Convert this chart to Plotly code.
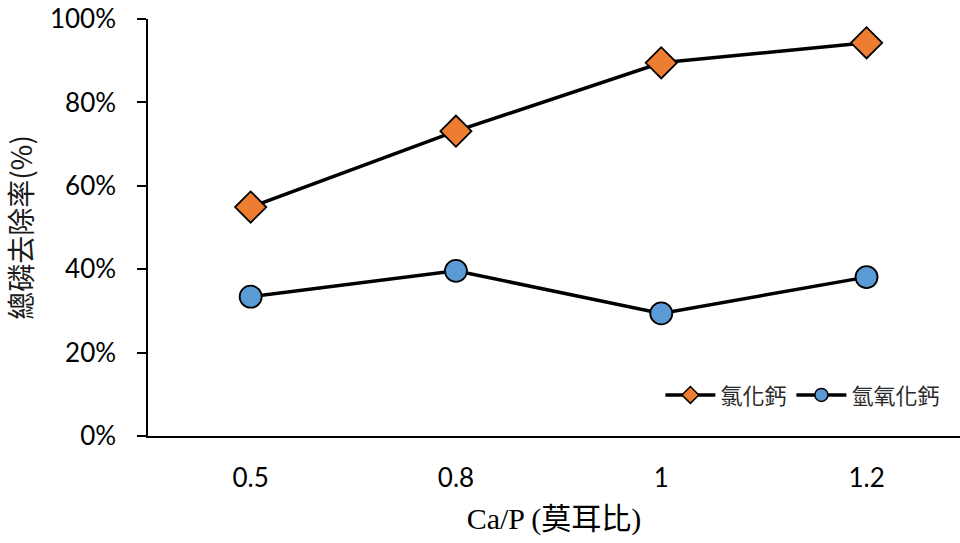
import plotly.graph_objects as go

categories = ["0.5", "0.8", "1", "1.2"]
cacl2 = [0.549, 0.731, 0.895, 0.943]
caoh2 = [0.334, 0.396, 0.294, 0.381]
series_names = ["氯化鈣", "氫氧化鈣"]
y_ticks = [0, 0.2, 0.4, 0.6, 0.8, 1.0]
y_tick_labels = ["0%", "20%", "40%", "60%", "80%", "100%"]

xpos = list(range(len(categories)))
colors = ["#ED7D31", "#5B9BD5"]
symbols = ["diamond", "circle"]
sizes = [24, 22]

fig = go.Figure()
for vals, name, col, sym, sz in zip([cacl2, caoh2], series_names, colors, symbols, sizes):
    fig.add_trace(go.Scatter(
        x=xpos, y=vals, name=name, mode="lines+markers", showlegend=False,
        line=dict(color="black", width=3.5),
        marker=dict(symbol=sym, size=sz, color=col, line=dict(color="black", width=1.8)),
    ))
# legend entries with smaller markers, as in the reference legend
for name, col, sym in zip(series_names, colors, symbols):
    fig.add_trace(go.Scatter(
        x=[None], y=[None], name=name, mode="lines+markers",
        line=dict(color="black", width=3.5),
        marker=dict(symbol=sym, size=13, color=col, line=dict(color="black", width=1.5)),
    ))

fig.update_layout(
    width=960, height=543,
    margin=dict(l=148, r=0, t=19, b=107),
    paper_bgcolor="white", plot_bgcolor="white",
    font=dict(family="Lato, 'Open Sans', sans-serif", color="black"),
    legend=dict(
        orientation="h", x=0.982, xanchor="right", y=0.098, yanchor="middle",
        font=dict(family="'Noto Sans CJK TC', sans-serif", size=22, color="#2a2a2a"),
        bgcolor="rgba(0,0,0,0)", itemwidth=50, traceorder="normal",
    ),
    xaxis=dict(
        range=[-0.5, -0.5 + 812 / 205.3],
        tickmode="array", tickvals=xpos, ticktext=categories,
        showline=True, linecolor="black", linewidth=1.5,
        showgrid=False, zeroline=False, ticks="",
        tickfont=dict(size=26, family="Lato, sans-serif"),
        ticklabelstandoff=18,
        title=dict(text="Ca/P (莫耳比)", font=dict(family="'Liberation Serif', 'Noto Sans CJK TC', serif", size=30), standoff=16),
    ),
    yaxis=dict(
        range=[0, 1.0],
        tickmode="array", tickvals=y_ticks, ticktext=y_tick_labels,
        showline=True, linecolor="black", linewidth=1.5,
        showgrid=False, zeroline=False,
        ticks="outside", ticklen=9, tickwidth=1.5, tickcolor="black",
        tickfont=dict(size=26, family="Lato, sans-serif"),
        ticklabelstandoff=16,
        title=dict(text="總磷去除率(%)", font=dict(family="'Noto Sans CJK TC', sans-serif", size=28, color="#1a1a1a"), standoff=10),
    ),
)

fig.write_html("out.html")
